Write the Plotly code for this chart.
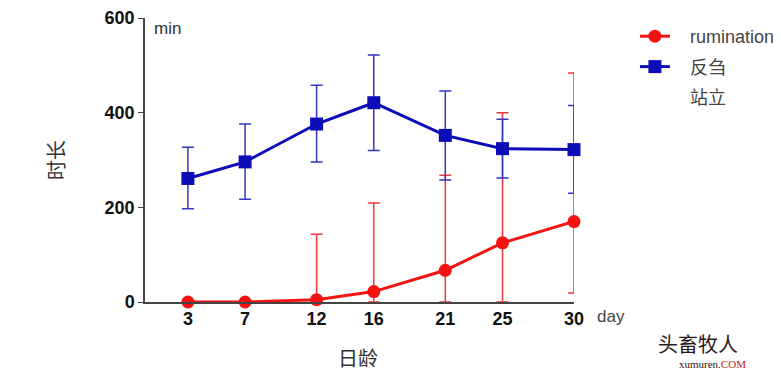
import plotly.graph_objects as go

days = [3, 7, 12, 16, 21, 25, 30]

rum_mean = [0, 0, 5, 22, 67, 125, 170]
rum_upper = [0, 0, 143, 209, 268, 400, 484]
rum_lower = [0, 0, 0, 0, 0, 0, 19]

stand_mean = [261, 296, 376, 421, 352, 324, 322]
stand_upper = [327, 376, 458, 522, 446, 386, 415]
stand_lower = [197, 217, 296, 320, 258, 262, 230]

y_ticks = [0, 200, 400, 600]
x_ticks = days

RED = "#f51212"
BLUE = "#0d0db8"
PAD = "\u00a0\u00a0\u00a0"

def plus(mean, up):
    return [u - m for m, u in zip(mean, up)]

def minus(mean, lo):
    return [m - l for m, l in zip(mean, lo)]

fig = go.Figure()

fig.add_trace(go.Scatter(
    x=days, y=rum_mean, name=PAD + "rumination", legendgroup="a",
    mode="lines+markers",
    line=dict(color=RED, width=3),
    marker=dict(symbol="circle", size=13, color=RED),
    error_y=dict(type="data", symmetric=False,
                 array=plus(rum_mean, rum_upper),
                 arrayminus=minus(rum_mean, rum_lower),
                 color="#ee3a3a", thickness=1.5, width=6),
    cliponaxis=False,
))

fig.add_trace(go.Scatter(
    x=days, y=stand_mean, name=PAD + "反刍", legendgroup="b",
    mode="lines+markers",
    line=dict(color=BLUE, width=3),
    marker=dict(symbol="square", size=13, color=BLUE),
    error_y=dict(type="data", symmetric=False,
                 array=plus(stand_mean, stand_upper),
                 arrayminus=minus(stand_mean, stand_lower),
                 color="#3535c4", thickness=1.5, width=6),
    cliponaxis=False,
))

fig.add_trace(go.Scatter(
    x=[None], y=[None], name=PAD + "站立", legendgroup="c",
    mode="lines", line=dict(color="rgba(0,0,0,0)", width=0),
))

fig.update_layout(
    width=773, height=364,
    margin=dict(l=137, r=207, t=10, b=70, autoexpand=False),
    paper_bgcolor="white", plot_bgcolor="white",
    font=dict(family="Arial, Liberation Sans, Noto Sans CJK SC", color="#333333"),
    showlegend=True,
    legend=dict(x=1.142, y=1.0, xanchor="left", yanchor="top",
                font=dict(size=18, color="#444444",
                          family="Arial, Liberation Sans, Noto Sans CJK SC"),
                itemwidth=30, tracegroupgap=4, bgcolor="rgba(0,0,0,0)"),
    xaxis=dict(range=[0, 30], tickmode="array", tickvals=x_ticks,
               ticktext=[str(d) for d in x_ticks], automargin=False,
               showgrid=False, zeroline=False, showline=True,
               linecolor="#444444", linewidth=1.5, ticks="",
               tickfont=dict(size=18, color="#111111", weight="bold",
                             family="Arial, Liberation Sans")),
    yaxis=dict(range=[0, 600], tickmode="array", tickvals=y_ticks,
               automargin=False,
               showgrid=False, zeroline=False, showline=True,
               linecolor="#444444", linewidth=1.5, ticks="outside",
               ticklen=5, tickcolor="#444444",
               tickfont=dict(size=18, color="#111111", weight="bold",
                             family="Arial, Liberation Sans")),
)

fig.add_annotation(text="时长", xref="paper", yref="paper", x=-0.21, y=0.5,
                   textangle=-90, xanchor="center", yanchor="middle",
                   showarrow=False,
                   font=dict(size=20, color="#333333", family="Noto Sans CJK SC"))
fig.add_annotation(text="日龄", xref="paper", yref="paper", x=0.4965, y=-0.194,
                   xanchor="center", yanchor="middle", showarrow=False,
                   font=dict(size=20, color="#333333", family="Noto Sans CJK SC"))
fig.add_annotation(text="min", xref="paper", yref="paper", x=0.016, y=1.005,
                   xanchor="left", yanchor="top", showarrow=False,
                   font=dict(size=17, color="#333333"))
fig.add_annotation(text="day", xref="paper", yref="paper", x=1.048, y=-0.01,
                   xanchor="left", yanchor="top", showarrow=False,
                   font=dict(size=17, color="#444444"))
fig.add_annotation(text="头畜牧人", xref="paper", yref="paper", x=1.29, y=-0.145,
                   xanchor="center", yanchor="middle", showarrow=False,
                   font=dict(size=20, color="#2a1a1a", family="Noto Sans CJK SC"))
fig.add_annotation(text="xumuren.<span style='color:#c02020'>COM</span>",
                   xref="paper", yref="paper", x=1.322, y=-0.218,
                   xanchor="center", yanchor="middle", showarrow=False,
                   font=dict(size=11, color="#2a1a1a", family="Liberation Serif"))

fig.write_html("out.html")
